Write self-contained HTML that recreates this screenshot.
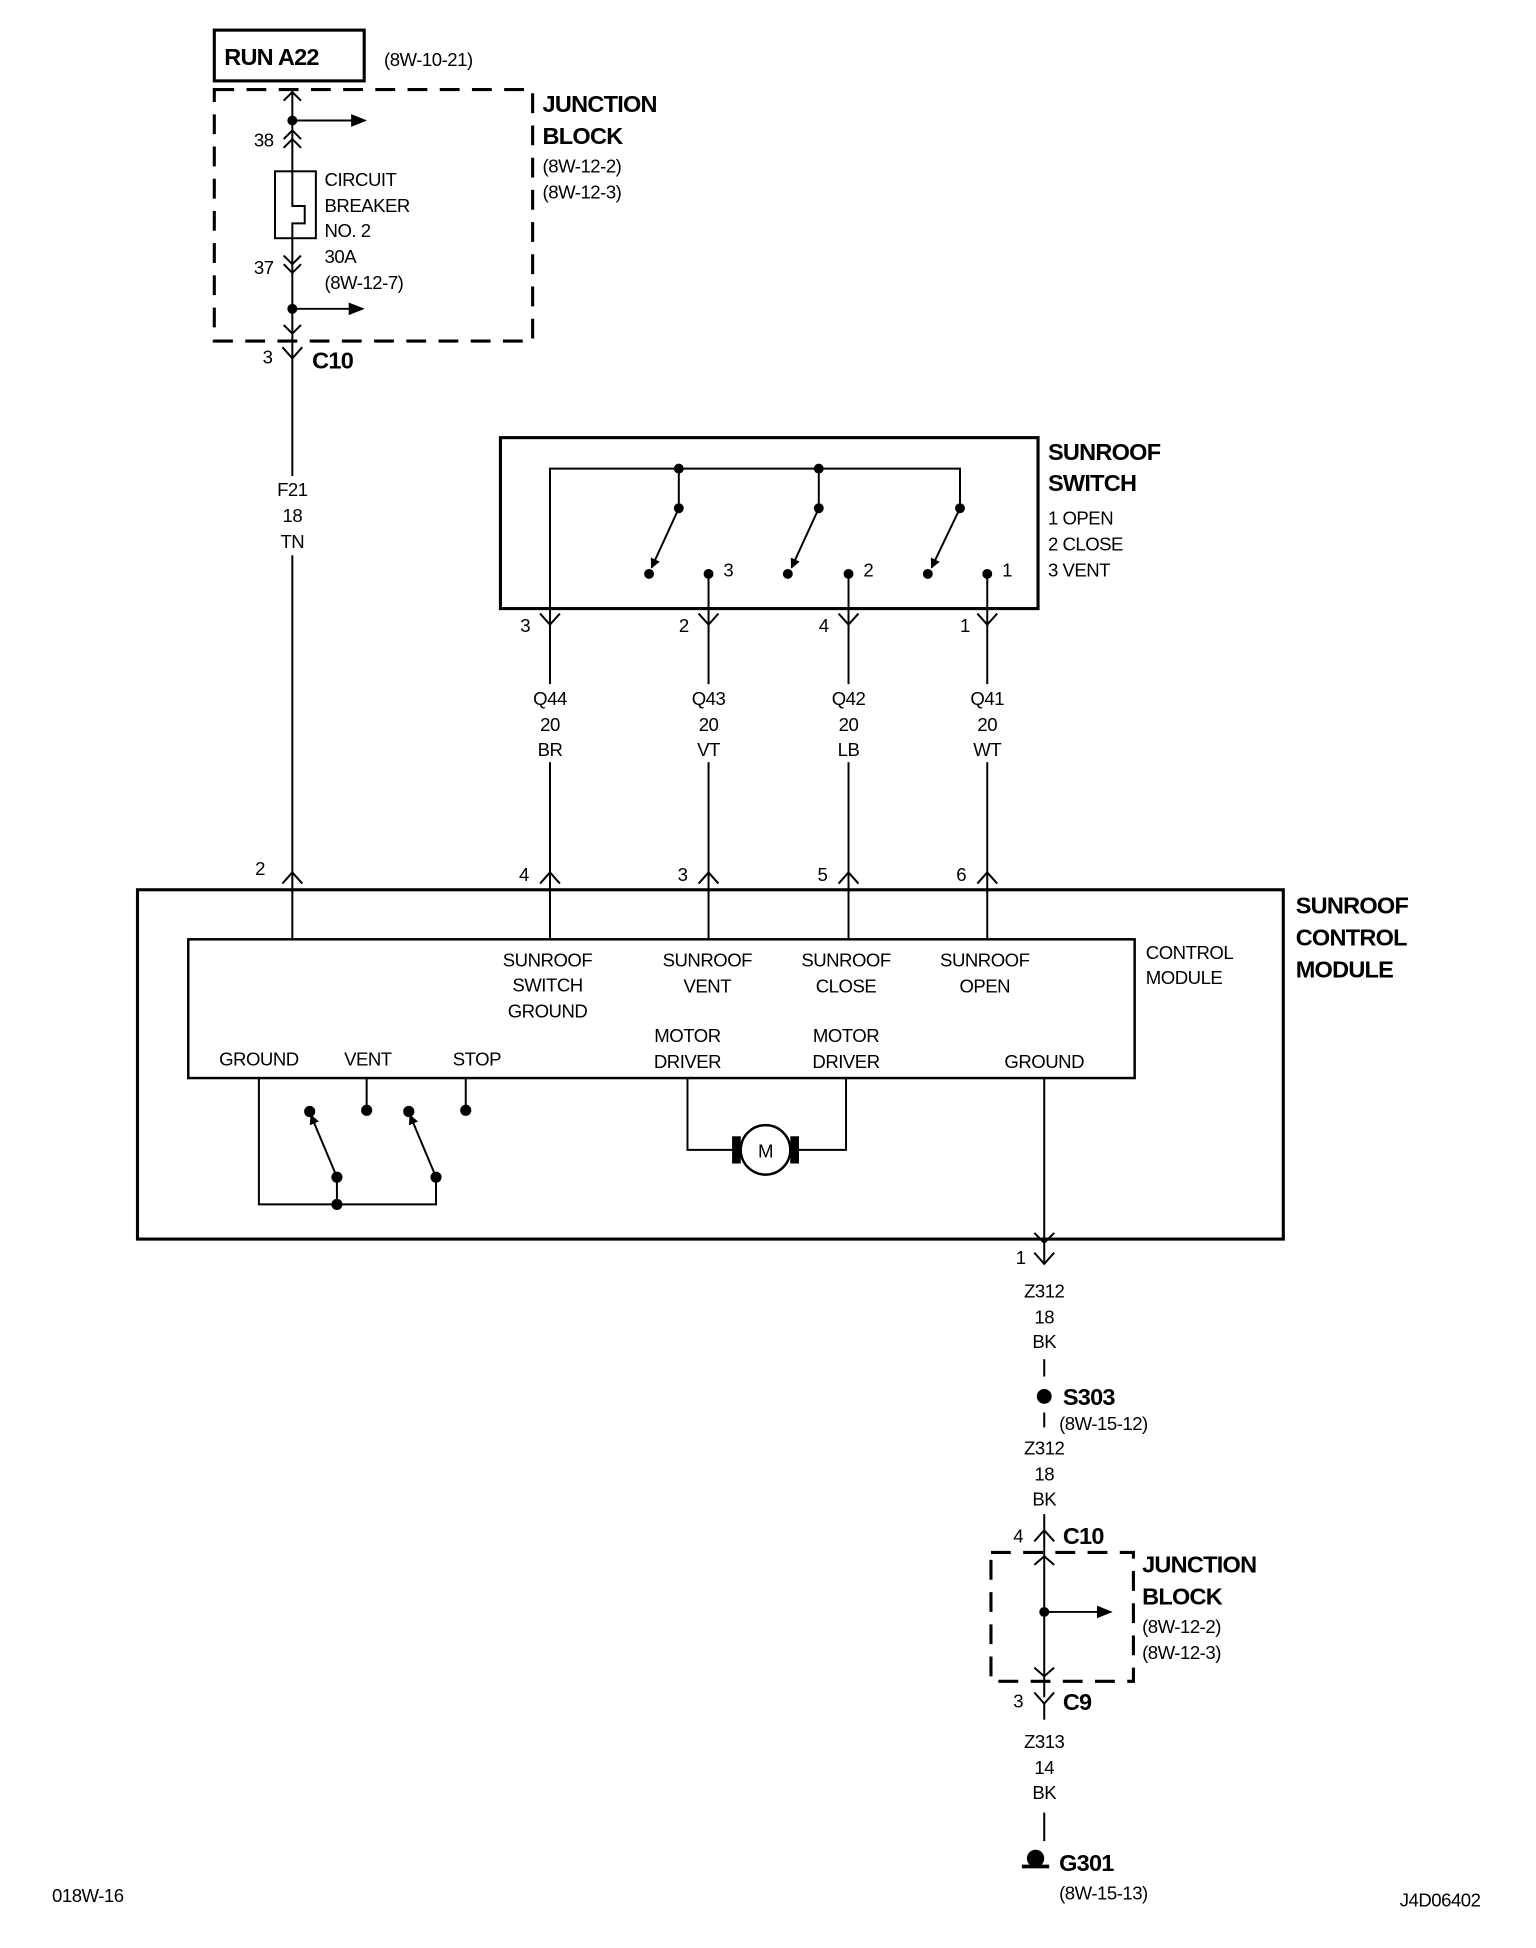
<!DOCTYPE html>
<html><head><style>
html,body{margin:0;padding:0;background:#fff;}
svg{display:block;}
text{font-family:"Liberation Sans",sans-serif;fill:#000;letter-spacing:-0.4px;}
.t{font-size:15px;}
.b{font-size:19px;font-weight:bold;letter-spacing:-0.6px;}
.c{text-anchor:middle;}
</style></head><body>
<svg width="1536" height="1948" viewBox="0 0 1240 1572" xmlns="http://www.w3.org/2000/svg">
<defs>
<marker id="ah" viewBox="0 0 10 10" refX="9" refY="5" markerWidth="8" markerHeight="8" orient="auto"><path d="M0,1 L10,5 L0,9 z" fill="#000"/></marker>
<marker id="sa" viewBox="0 0 10 10" refX="9" refY="5" markerWidth="5" markerHeight="5" orient="auto"><path d="M0,0 L10,5 L0,10 z" fill="#000"/></marker>
</defs>
<g stroke="#000" fill="none" stroke-width="1.6">
<rect x="173" y="24" width="121" height="41" stroke-width="2.5"/>
<rect x="173" y="72" width="257" height="203" stroke-width="2.5" stroke-dasharray="16,10"/>
<line x1="236" y1="72" x2="236" y2="720"/>
<path d="M229,81 L236,74 L243,81"/>
<line x1="236" y1="97" x2="295" y2="97" marker-end="url(#ah)"/>
<path d="M229,112 L236,105 L243,112 M229,119 L236,112 L243,119"/>
<rect x="222" y="138" width="33" height="54" fill="#fff"/>
<path d="M236,138 V166 H246 V180 H236 V192"/>
<path d="M229,206 L236,213 L243,206 M229,213 L236,220 L243,213"/>
<line x1="236" y1="249" x2="293" y2="249" marker-end="url(#ah)"/>
<path d="M229,262 L236,269 L243,262"/>
<path d="M228,280 L236,289 L244,280"/>
<rect x="404" y="353" width="434" height="138" stroke-width="2.5"/>
<path d="M444,495 V378 H775 V410"/>
<line x1="548" y1="378" x2="548" y2="410"/>
<line x1="661" y1="378" x2="661" y2="410"/>
<line x1="548" y1="410" x2="526" y2="458" marker-end="url(#sa)"/>
<line x1="661" y1="410" x2="639" y2="458" marker-end="url(#sa)"/>
<line x1="775" y1="410" x2="752" y2="458" marker-end="url(#sa)"/>
<line x1="572" y1="463" x2="572" y2="720"/>
<line x1="685" y1="463" x2="685" y2="720"/>
<line x1="797" y1="463" x2="797" y2="720"/>
<line x1="444" y1="495" x2="444" y2="720"/>
<path d="M436,495 L444,504 L452,495 M564,495 L572,504 L580,495 M677,495 L685,504 L693,495 M789,495 L797,504 L805,495"/>
<path d="M228,713 L236,704 L244,713 M436,713 L444,704 L452,713 M564,713 L572,704 L580,713 M677,713 L685,704 L693,713 M789,713 L797,704 L805,713"/>
<rect x="111" y="718" width="925" height="282" stroke-width="2.5"/>
<rect x="152" y="758" width="764" height="112" stroke-width="2"/>
<line x1="236" y1="718" x2="236" y2="758"/>
<line x1="444" y1="718" x2="444" y2="758"/>
<line x1="572" y1="718" x2="572" y2="758"/>
<line x1="685" y1="718" x2="685" y2="758"/>
<line x1="797" y1="718" x2="797" y2="758"/>
<path d="M209,870 V972 H352 V950"/>
<line x1="272" y1="950" x2="272" y2="972"/>
<line x1="296" y1="870" x2="296" y2="896"/>
<line x1="376" y1="870" x2="376" y2="896"/>
<line x1="272" y1="950" x2="251" y2="900" marker-end="url(#sa)"/>
<line x1="352" y1="950" x2="331" y2="900" marker-end="url(#sa)"/>
<path d="M555,870 V928 H596 M683,870 V928 H641"/>
<circle cx="618" cy="928" r="20" stroke-width="2"/>
<line x1="843" y1="870" x2="843" y2="1020"/>
<path d="M835,995 L843,1003 L851,995"/>
<path d="M835,1011 L843,1020 L851,1011"/>
<line x1="843" y1="1097" x2="843" y2="1111"/>
<line x1="843" y1="1140" x2="843" y2="1152"/>
<line x1="843" y1="1222" x2="843" y2="1370"/>
<path d="M835,1244 L843,1235 L851,1244 M835,1263 L843,1256 L851,1263"/>
<rect x="800" y="1253" width="115" height="104" stroke-width="2.5" stroke-dasharray="16,10"/>
<line x1="843" y1="1301" x2="897" y2="1301" marker-end="url(#ah)"/>
<path d="M835,1346 L843,1353 L851,1346 M835,1366 L843,1375 L851,1366"/>
<line x1="843" y1="1375" x2="843" y2="1388"/>
<line x1="843" y1="1463" x2="843" y2="1486"/>
</g>
<g fill="#fff">
<rect x="218" y="384" width="36" height="64"/>
<rect x="426" y="552" width="36" height="63"/>
<rect x="554" y="552" width="36" height="63"/>
<rect x="667" y="552" width="36" height="63"/>
<rect x="779" y="552" width="36" height="63"/>
</g>
<g fill="#000">
<circle cx="236" cy="97" r="4"/><circle cx="236" cy="249" r="4"/>
<circle cx="548" cy="378" r="4"/><circle cx="661" cy="378" r="4"/>
<circle cx="548" cy="410" r="4"/><circle cx="661" cy="410" r="4"/><circle cx="775" cy="410" r="4"/>
<circle cx="524" cy="463" r="4"/><circle cx="636" cy="463" r="4"/><circle cx="749" cy="463" r="4"/>
<circle cx="572" cy="463" r="4"/><circle cx="685" cy="463" r="4"/><circle cx="797" cy="463" r="4"/>
<circle cx="250" cy="897" r="4.5"/><circle cx="296" cy="896" r="4.5"/><circle cx="330" cy="897" r="4.5"/><circle cx="376" cy="896" r="4.5"/>
<circle cx="272" cy="950" r="4.5"/><circle cx="352" cy="950" r="4.5"/><circle cx="272" cy="972" r="4.5"/>
<rect x="591" y="917" width="7" height="22"/><rect x="638" y="917" width="7" height="22"/>
<circle cx="843" cy="1127" r="6"/><circle cx="843" cy="1301" r="4"/>
<circle cx="836" cy="1500" r="7"/><rect x="825" y="1505" width="22" height="3"/>
</g>
<text x="181" y="52" class="b">RUN A22</text>
<text x="310" y="53" class="t">(8W-10-21)</text>
<text x="438" y="90" class="b">JUNCTION</text>
<text x="438" y="116" class="b">BLOCK</text>
<text x="438" y="139" class="t">(8W-12-2)</text>
<text x="438" y="160" class="t">(8W-12-3)</text>
<text x="205" y="118" class="t">38</text>
<text x="262" y="150" class="t">CIRCUIT</text>
<text x="262" y="171" class="t">BREAKER</text>
<text x="262" y="191" class="t">NO. 2</text>
<text x="262" y="212" class="t">30A</text>
<text x="262" y="233" class="t">(8W-12-7)</text>
<text x="205" y="221" class="t">37</text>
<text x="212" y="293" class="t">3</text>
<text x="252" y="297" class="b">C10</text>
<text x="236" y="400" class="t c">F21</text><text x="236" y="421" class="t c">18</text><text x="236" y="442" class="t c">TN</text>
<text x="846" y="371" class="b">SUNROOF</text>
<text x="846" y="396" class="b">SWITCH</text>
<text x="846" y="423" class="t">1 OPEN</text>
<text x="846" y="444" class="t">2 CLOSE</text>
<text x="846" y="465" class="t">3 VENT</text>
<text x="584" y="465" class="t">3</text><text x="697" y="465" class="t">2</text><text x="809" y="465" class="t">1</text>
<text x="420" y="510" class="t">3</text><text x="548" y="510" class="t">2</text><text x="661" y="510" class="t">4</text><text x="775" y="510" class="t">1</text>
<text x="444" y="569" class="t c">Q44</text><text x="444" y="590" class="t c">20</text><text x="444" y="610" class="t c">BR</text>
<text x="572" y="569" class="t c">Q43</text><text x="572" y="590" class="t c">20</text><text x="572" y="610" class="t c">VT</text>
<text x="685" y="569" class="t c">Q42</text><text x="685" y="590" class="t c">20</text><text x="685" y="610" class="t c">LB</text>
<text x="797" y="569" class="t c">Q41</text><text x="797" y="590" class="t c">20</text><text x="797" y="610" class="t c">WT</text>
<text x="206" y="706" class="t">2</text><text x="419" y="711" class="t">4</text><text x="547" y="711" class="t">3</text><text x="660" y="711" class="t">5</text><text x="772" y="711" class="t">6</text>
<text x="1046" y="737" class="b">SUNROOF</text>
<text x="1046" y="763" class="b">CONTROL</text>
<text x="1046" y="789" class="b">MODULE</text>
<text x="925" y="774" class="t">CONTROL</text>
<text x="925" y="794" class="t">MODULE</text>
<text x="442" y="780" class="t c">SUNROOF</text><text x="442" y="800" class="t c">SWITCH</text><text x="442" y="821" class="t c">GROUND</text>
<text x="571" y="780" class="t c">SUNROOF</text><text x="571" y="801" class="t c">VENT</text>
<text x="683" y="780" class="t c">SUNROOF</text><text x="683" y="801" class="t c">CLOSE</text>
<text x="795" y="780" class="t c">SUNROOF</text><text x="795" y="801" class="t c">OPEN</text>
<text x="555" y="841" class="t c">MOTOR</text><text x="555" y="862" class="t c">DRIVER</text>
<text x="683" y="841" class="t c">MOTOR</text><text x="683" y="862" class="t c">DRIVER</text>
<text x="209" y="860" class="t c">GROUND</text><text x="297" y="860" class="t c">VENT</text><text x="385" y="860" class="t c">STOP</text>
<text x="843" y="862" class="t c">GROUND</text>
<text x="618" y="934" class="t c">M</text>
<text x="820" y="1020" class="t">1</text>
<text x="843" y="1047" class="t c">Z312</text><text x="843" y="1068" class="t c">18</text><text x="843" y="1088" class="t c">BK</text>
<text x="858" y="1134" class="b">S303</text>
<text x="855" y="1154" class="t">(8W-15-12)</text>
<text x="843" y="1174" class="t c">Z312</text><text x="843" y="1195" class="t c">18</text><text x="843" y="1215" class="t c">BK</text>
<text x="818" y="1245" class="t">4</text>
<text x="858" y="1246" class="b">C10</text>
<text x="922" y="1269" class="b">JUNCTION</text>
<text x="922" y="1295" class="b">BLOCK</text>
<text x="922" y="1318" class="t">(8W-12-2)</text>
<text x="922" y="1339" class="t">(8W-12-3)</text>
<text x="818" y="1378" class="t">3</text>
<text x="858" y="1380" class="b">C9</text>
<text x="843" y="1411" class="t c">Z313</text><text x="843" y="1432" class="t c">14</text><text x="843" y="1452" class="t c">BK</text>
<text x="855" y="1510" class="b">G301</text>
<text x="855" y="1533" class="t">(8W-15-13)</text>
<text x="42" y="1535" class="t">018W-16</text>
<text x="1130" y="1539" class="t">J4D06402</text>
</svg>
</body></html>
